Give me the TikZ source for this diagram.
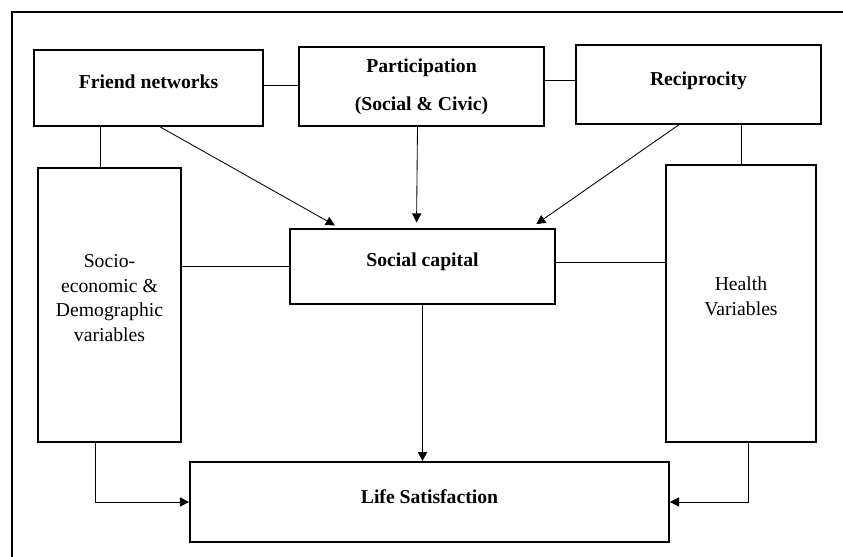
\documentclass[tikz,border=0pt]{standalone}
\usepackage{fontspec}
\setmainfont{Liberation Serif}
\usetikzlibrary{arrows.meta,calc}

\tikzset{
  box/.style={draw, line width=1.2pt, inner sep=0pt},
  tx/.style={font=\fontsize{14}{17.5}\selectfont, align=center},
  txb/.style={font=\fontsize{14}{17.5}\selectfont\bfseries, align=center},
  link/.style={line width=0.6pt},
  arr/.style={link, -{Triangle[length=6.5pt,width=6.5pt]}}
}

\begin{document}
\begin{tikzpicture}[x=0.025cm, y=-0.025cm]
  \useasboundingbox (0,0) rectangle (843,557);

  % Frame
  \draw[line width=1.2pt] (12,557) -- (12,12) -- (843,12);

  % Top row
  \node[box, minimum width=5.725cm, minimum height=1.9cm,
        label={[txb, yshift=4.3pt]center:Friend networks}] (friend) at (148.5,88) {};
  \node[box, minimum width=6.125cm, minimum height=1.975cm,
        label={[txb]center:Participation\\[9.5pt](Social \& Civic)}] (part) at (421.5,86.5) {};
  \node[box, minimum width=6.125cm, minimum height=1.975cm,
        label={[txb, yshift=2.8pt]center:Reciprocity}] (recip) at (698.5,84.5) {};

  % Middle row
  \node[box, minimum width=3.575cm, minimum height=6.85cm,
        label={[tx, yshift=5pt]center:Socio-\\economic \&\\Demographic\\variables}] (socio) at (109.5,305) {};
  \node[box, minimum width=6.625cm, minimum height=1.875cm,
        label={[txb, yshift=3.2pt]center:Social capital}] (social) at (422.5,266.5) {};
  \node[box, minimum width=3.75cm, minimum height=6.925cm,
        label={[tx, yshift=5pt]center:Health\\Variables}] (health) at (741,303.5) {};

  % Bottom
  \node[box, minimum width=11.975cm, minimum height=2cm,
        label={[txb, yshift=3.6pt]center:Life Satisfaction}] (life) at (429.5,502) {};

  % Plain links
  \draw[link] ($(friend.east)+(0,-3)$) -- ($(part.west)+(0,-1.5)$);
  \draw[link] ($(part.east)+(0,-6)$) -- ($(recip.west)+(0,-4)$);
  \coordinate (fs) at ($(socio.north)+(-9,0)$);
  \draw[link] (fs) -- (fs |- friend.south);
  \draw[link] (health.north) -- (health.north |- recip.south);
  \draw[link] (social.west -| socio.east) -- (social.west);
  \coordinate (sh) at ($(social.east)+(0,-4.5)$);
  \draw[link] (sh) -- (sh -| health.west);

  % Arrows into social capital
  \draw[arr, shorten >=4pt] ($(friend.south west)!0.55!(friend.south east)$)
    -- ($(social.north west)!0.19!(social.north east)$);
  \draw[arr, shorten >=4pt] ($(part.south)+(-4,0)$) -- ($(social.north)+(-6,0)$);
  \draw[arr, shorten >=5pt] ($(recip.south west)!0.42!(recip.south east)$)
    -- ($(social.north west)!0.905!(social.north east)$);

  % Arrows into life satisfaction
  \draw[arr] (social.south) -- (social.south |- life.north);
  \draw[arr] ($(socio.south)+(-14.5,0)$) |- (life.west);
  \draw[arr] ($(health.south)+(7,0)$) |- (life.east);
\end{tikzpicture}
\end{document}
